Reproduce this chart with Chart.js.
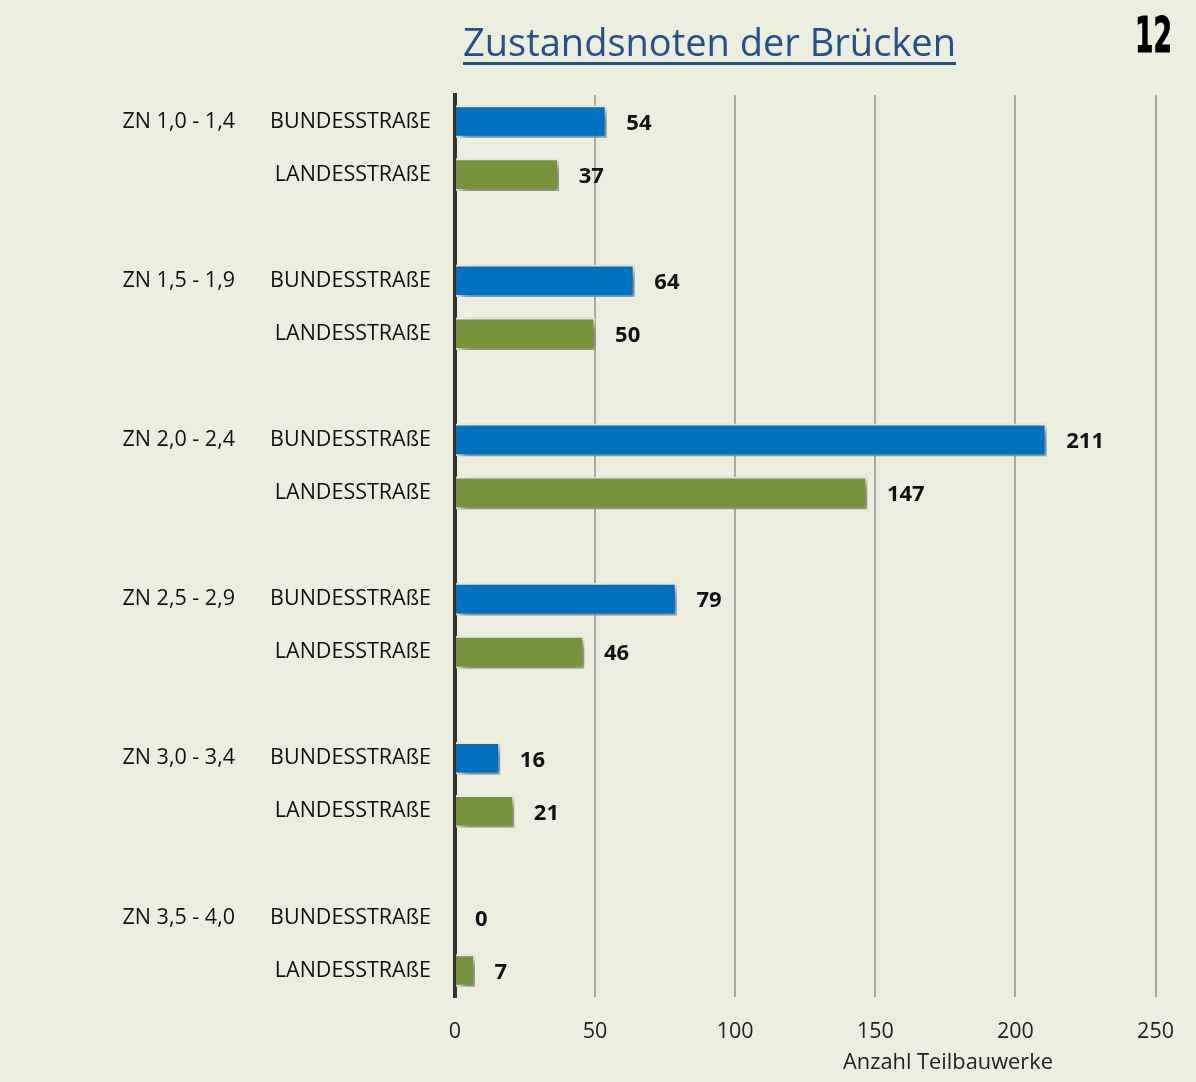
<!DOCTYPE html>
<html lang="de">
<head>
<meta charset="utf-8">
<title>Zustandsnoten der Brücken</title>
<script src="https://cdn.jsdelivr.net/npm/chart.js@4/dist/chart.umd.min.js"></script>
<style>
    html, body { margin: 0; padding: 0; background: #ecefdf; }
    #wrap { position: relative; width: 1196px; height: 1082px; overflow: hidden; }
    #titel {
        position: absolute; left: 463px; top: 14px;
        font-family: "Open Sans", sans-serif; font-size: 39px; color: #23508f;
        text-decoration: underline; text-decoration-thickness: 3px; text-underline-offset: 6px;
        white-space: nowrap; transform-origin: 0 0;
    }
    #seite {
        position: absolute; left: 1135px; top: 6px;
        font-family: "Liberation Sans Narrow", "DejaVu Sans Condensed", sans-serif; font-weight: bold;
        font-size: 50px; color: #000; white-space: nowrap; transform-origin: 0 0;
        -webkit-text-stroke: 1px #000;
    }
    #achse {
        position: absolute; left: 843px; top: 1047px;
        font-family: "Open Sans", sans-serif; font-size: 21px; color: #222;
        white-space: nowrap; transform-origin: 0 0;
    }
</style>
</head>
<body>
<div id="wrap">
    <canvas id="brueckenChart" width="1196" height="1082"></canvas>
    <div id="titel">Zustandsnoten der Brücken</div>
    <div id="seite">12</div>
    <div id="achse">Anzahl Teilbauwerke</div>
</div>
<script>
// Daten
const gruppen = ['ZN 1,0 - 1,4', 'ZN 1,5 - 1,9', 'ZN 2,0 - 2,4', 'ZN 2,5 - 2,9', 'ZN 3,0 - 3,4', 'ZN 3,5 - 4,0'];
const strassen = ['BUNDESSTRAßE', 'LANDESSTRAßE'];
const bundesstrasse = [54, 64, 211, 79, 16, 0];
const landesstrasse = [37, 50, 147, 46, 21, 7];
const xTicks = [0, 50, 100, 150, 200, 250];

const farbeBund = '#0070c0';
const farbeLand = '#77933c';

// Zeilen aufbauen: je Gruppe zwei Balken, dazwischen eine leere Zeile
const zeilenStrasse = [];
const zeilenGruppe = [];
const werte = [];
const farben = [];
gruppen.forEach((g, i) => {
    zeilenStrasse.push(strassen[0], strassen[1]);
    zeilenGruppe.push(g, '');
    werte.push(bundesstrasse[i], landesstrasse[i]);
    farben.push(farbeBund, farbeLand);
    if (i < gruppen.length - 1) {
        zeilenStrasse.push('');
        zeilenGruppe.push('');
        werte.push(null);
        farben.push(farbeBund);
    }
});

// Schatten für die Balken
const schattenPlugin = {
    id: 'schatten',
    beforeDatasetsDraw(chart) {
        const ctx = chart.ctx;
        ctx.save();
        ctx.shadowColor = 'rgba(40,40,30,0.6)';
        ctx.shadowBlur = 10;
        ctx.shadowOffsetX = 5;
        ctx.shadowOffsetY = 5;
    },
    afterDatasetsDraw(chart) {
        chart.ctx.restore();
    }
};

// Werte neben die Balken schreiben
const wertePlugin = {
    id: 'werte',
    afterDatasetsDraw(chart) {
        const ctx = chart.ctx;
        const meta = chart.getDatasetMeta(0);
        ctx.save();
        ctx.font = 'bold 22px "Open Sans", sans-serif';
        ctx.fillStyle = '#111';
        ctx.textAlign = 'left';
        ctx.textBaseline = 'middle';
        meta.data.forEach((bar, i) => {
            const v = werte[i];
            if (v === null) return;
            ctx.fillText(String(v), bar.x + 20, bar.y + 2);
        });
        ctx.restore();
    }
};

const ctx = document.getElementById('brueckenChart').getContext('2d');
new Chart(ctx, {
    type: 'bar',
    data: {
        labels: zeilenStrasse,
        datasets: [{
            data: werte,
            backgroundColor: farben,
            borderColor: 'rgba(235,242,240,0.95)',
            borderWidth: { top: 2, right: 2, bottom: 2, left: 0 },
            borderSkipped: false,
            barThickness: 32,
            yAxisID: 'y'
        }]
    },
    options: {
        indexAxis: 'y',
        responsive: false,
        animation: false,
        layout: { padding: { top: 95, right: 39, left: 100, bottom: 0 } },
        plugins: {
            legend: { display: false },
            tooltip: { enabled: false }
        },
        scales: {
            x: {
                min: 0,
                max: 250,
                afterBuildTicks: (scale) => { scale.ticks = xTicks.map(v => ({ value: v })); },
                afterFit: (scale) => { scale.height = 85; },
                grid: { color: '#a9aba2', lineWidth: 2, drawTicks: false },
                border: { display: false },
                ticks: {
                    padding: 22,
                    color: '#222',
                    font: { family: '"Open Sans", sans-serif', size: 21.5 }
                }
            },
            y: {
                type: 'category',
                weight: 0,
                offset: true,
                afterFit: (scale) => { scale.width = 205; },
                grid: { drawOnChartArea: false, drawTicks: false },
                border: { display: true, color: '#333333', width: 4 },
                ticks: {
                    autoSkip: false,
                    padding: 24,
                    color: '#111',
                    font: { family: '"Open Sans", sans-serif', size: 21.5 }
                }
            },
            y2: {
                type: 'category',
                position: 'left',
                labels: zeilenGruppe,
                min: 0,
                max: zeilenGruppe.length - 1,
                weight: 1,
                offset: true,
                afterFit: (scale) => { scale.width = 150; },
                grid: { display: false, drawTicks: false },
                border: { display: false },
                ticks: {
                    autoSkip: false,
                    padding: 15,
                    color: '#111',
                    font: { family: '"Open Sans", sans-serif', size: 21.5 }
                }
            }
        }
    },
    plugins: [schattenPlugin, wertePlugin]
});

// Texte auf die Breite im Original bringen
function aufBreite(id, breite) {
    const el = document.getElementById(id);
    const w = el.getBoundingClientRect().width;
    if (w > 0) el.style.transform = 'scaleX(' + (breite / w) + ')';
}
aufBreite('titel', 493);
aufBreite('seite', 37);
aufBreite('achse', 210);
</script>
</body>
</html>
